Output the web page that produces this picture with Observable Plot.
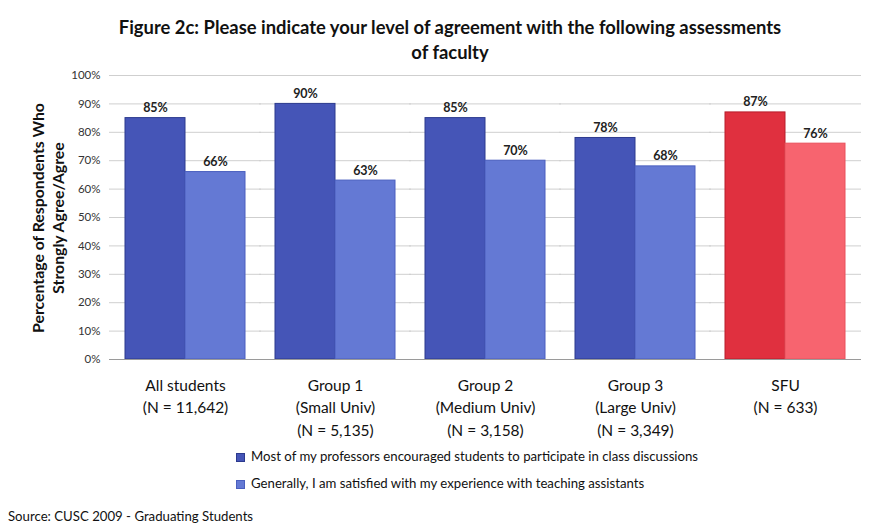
<!DOCTYPE html>
<html><head><meta charset="utf-8">
<script src="https://cdn.jsdelivr.net/npm/d3@7"></script>
<script src="https://cdn.jsdelivr.net/npm/@observablehq/plot@0.6"></script>
<style>
body{margin:0;background:#fff;font-family:Lato,"Open Sans",sans-serif;color:#111}
#wrap{position:relative;width:871px;height:531px;overflow:hidden;background:#fff}
#chart{position:absolute;left:0;top:0}
#title{position:absolute;left:50px;width:800px;top:15px;text-align:center;font-weight:bold;font-size:18.4px;line-height:25px}
#ylab{position:absolute;left:48px;top:218px;width:300px;margin-left:-150px;text-align:center;font-weight:bold;font-size:15.8px;line-height:20px;transform:translateY(-50%) rotate(-90deg)}
#legend{position:absolute;left:236px;top:448px;font-size:13.2px}
.li{height:27px;display:flex;align-items:flex-start}
.sw{width:7px;height:7px;margin:5px 6px 0 0;display:inline-block}
#source{position:absolute;left:8px;top:508px;font-size:13.2px}
</style></head>
<body><div id="wrap">
<div id="chart"></div>
<div id="title"></div>
<div id="ylab"></div>
<div id="legend"></div>
<div id="source"></div>
</div>
<script>
const titleText = "Figure 2c: Please indicate your level of agreement with the following assessments\nof faculty";
const yLabel = "Percentage of Respondents Who\nStrongly Agree/Agree";
const sourceText = "Source: CUSC 2009 - Graduating Students";
const categories = ["All students", "Group 1", "Group 2", "Group 3", "SFU"];
const categoryLabels = ["All students\n(N = 11,642)", "Group 1\n(Small Univ)\n(N = 5,135)", "Group 2\n(Medium Univ)\n(N = 3,158)", "Group 3\n(Large Univ)\n(N = 3,349)", "SFU\n(N = 633)"];
const seriesNames = ["Most of my professors encouraged students to participate in class discussions", "Generally, I am satisfied with my experience with teaching assistants"];
const encouraged = [85, 90, 85, 78, 87];
const satisfied = [66, 63, 70, 68, 76];
const yTicks = [0, 10, 20, 30, 40, 50, 60, 70, 80, 90, 100];
const blueFill = ["#4555b7", "#6479d4"];
const redFill = ["#e0303f", "#f7646f"];
const blueStroke = ["#2c3a8e", "#4a5fbf"];
const redStroke = ["#b81e2c", "#e9505c"];

const rows = categories.flatMap((c, i) => [
  {cat: c, series: 0, value: encouraged[i]},
  {cat: c, series: 1, value: satisfied[i]}
]);
const isRed = d => d.cat === "SFU";

document.getElementById("title").innerHTML = titleText.split("\n").join("<br>");
document.getElementById("ylab").innerHTML = yLabel.split("\n").join("<br>");
document.getElementById("source").textContent = sourceText;
document.getElementById("legend").innerHTML = seriesNames.map((s, i) =>
  `<div class="li"><span class="sw" style="background:${blueFill[i]};border:1px solid ${blueStroke[i]}"></span><span>${s}</span></div>`).join("");

const chart = Plot.plot({
  width: 871, height: 531,
  marginTop: 75, marginBottom: 172, marginLeft: 108, marginRight: 10,
  style: {fontFamily: "Lato, sans-serif", background: "transparent", fontSize: "11.5px", color: "#333"},
  fx: {domain: categories, paddingInner: 0.2, paddingOuter: 0.1, axis: null, label: null},
  x: {domain: [0, 1], axis: null, padding: 0},
  y: {domain: [0, 100], label: null, ticks: yTicks, tickFormat: d => d + "%", tickSize: 0, tickPadding: 25, axis: "left"},
  marks: [
    Plot.ruleY(yTicks, {stroke: "#cfcfcf", strokeWidth: 1, insetLeft: -16, insetRight: -16}),
    Plot.barY(rows, {fx: "cat", x: "series", y: "value",
      fill: d => isRed(d) ? redFill[d.series] : blueFill[d.series],
      stroke: d => isRed(d) ? redStroke[d.series] : blueStroke[d.series], strokeWidth: 1, inset: 0}),
    Plot.ruleY([0], {stroke: "#9a9a9a", strokeWidth: 1, insetLeft: -16, insetRight: -16}),
    Plot.text(rows, {fx: "cat", x: "series", y: "value", text: d => d.value + "%", dy: -10, fontWeight: "bold", fontSize: 12.5, fill: "#222"}),
    Plot.text(categories, {fx: d => d, text: (d, i) => categoryLabels[i], frameAnchor: "bottom", lineAnchor: "top", dy: 15, fontSize: 15.5, lineHeight: 1.46, fill: "#111"})
  ]
});
document.getElementById("chart").appendChild(chart);
</script>
</body></html>
